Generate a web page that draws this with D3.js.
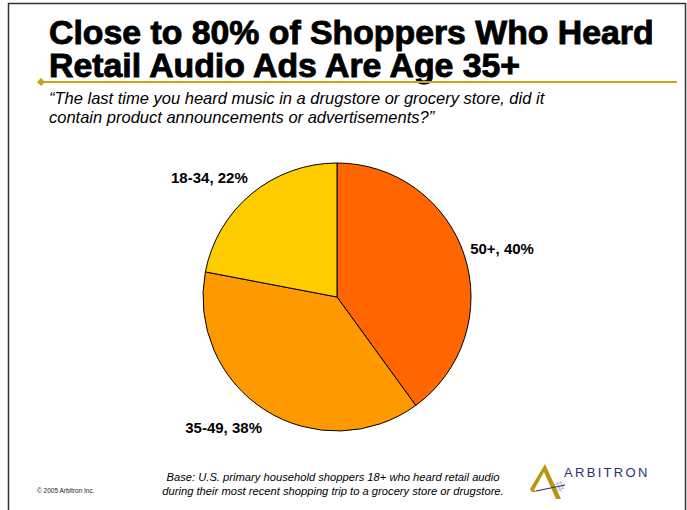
<!DOCTYPE html>
<html>
<head>
<meta charset="utf-8">
<script src="https://cdn.jsdelivr.net/npm/d3@7"></script>
<style>
  body { margin: 0; background: #fff; }
  svg { display: block; font-family: "Liberation Sans", Arial, sans-serif; }
</style>
</head>
<body>
<svg></svg>
<script>
// chart values
const ageGroups = ['50+', '35-49', '18-34'];
const shares = [40, 38, 22];
const sliceColors = ['#FF6600', '#FF9900', '#FFCC00'];

const titleLines = ['Close to 80% of Shoppers Who Heard', 'Retail Audio Ads Are Age 35+'];
const questionLines = [
    '\u201CThe last time you heard music in a drugstore or grocery store, did it',
    'contain product announcements or advertisements?\u201D'
];
const baseLines = [
    'Base: U.S. primary household shoppers 18+ who heard retail audio',
    'during their most recent shopping trip to a grocery store or drugstore.'
];

const width = 687, height = 510;
const svg = d3.select('svg')
    .attr('width', width)
    .attr('height', height);

// slide frame
svg.append('rect')
    .attr('x', 8.5).attr('y', 3.5)
    .attr('width', 677).attr('height', 520)
    .attr('fill', 'none')
    .attr('stroke', '#333')
    .attr('stroke-width', 1.5);

// title
svg.append('g').selectAll('text')
    .data(titleLines)
    .join('text')
    .attr('x', 49)
    .attr('y', (d, i) => 44 + i * 33)
    .attr('font-size', 33.8)
    .attr('font-weight', 'bold')
    .attr('fill', '#000')
    .attr('stroke', '#000')
    .attr('stroke-width', 0.9)
    .text(d => d);

// gold rule with diamond
svg.append('line')
    .attr('x1', 40).attr('x2', 677)
    .attr('y1', 82).attr('y2', 82)
    .attr('stroke', '#C8A415')
    .attr('stroke-width', 2);
svg.append('path')
    .attr('d', 'M41,78 L45,82 L41,86 L37,82 Z')
    .attr('fill', '#C8A415');

// survey question
svg.append('g').selectAll('text')
    .data(questionLines)
    .join('text')
    .attr('x', 49)
    .attr('y', (d, i) => 104 + i * 19)
    .attr('font-size', 16.5)
    .attr('font-style', 'italic')
    .text(d => d);

// pie
const radius = 134;
const cx = 337, cy = 297;
const pie = d3.pie().sort(null).value(d => d);
const arc = d3.arc().innerRadius(0).outerRadius(radius);
const arcs = pie(shares);
// labels sit on an ellipse round the pie, like the original slide
const labelRx = 140, labelRy = 155;
const midAngle = d => (d.startAngle + d.endAngle) / 2;

const g = svg.append('g').attr('transform', `translate(${cx},${cy})`);
g.selectAll('path')
    .data(arcs)
    .join('path')
    .attr('d', arc)
    .attr('fill', (d, i) => sliceColors[i])
    .attr('stroke', '#000')
    .attr('stroke-width', 1);

g.selectAll('text')
    .data(arcs)
    .join('text')
    .attr('x', d => Math.sin(midAngle(d)) * labelRx)
    .attr('y', d => -Math.cos(midAngle(d)) * labelRy)
    .attr('text-anchor', d => midAngle(d) < Math.PI ? 'start' : 'end')
    .attr('dy', '0.35em')
    .attr('font-size', 15)
    .attr('font-weight', 'bold')
    .text((d, i) => `${ageGroups[i]}, ${shares[i]}%`);

// footer
svg.append('text')
    .attr('x', 37).attr('y', 493)
    .attr('font-size', 6.5)
    .attr('fill', '#222')
    .text('\u00A9 2005 Arbitron Inc.');

svg.append('g').selectAll('text')
    .data(baseLines)
    .join('text')
    .attr('x', 333)
    .attr('y', (d, i) => 481 + i * 14)
    .attr('text-anchor', 'middle')
    .attr('font-size', 11.2)
    .attr('font-style', 'italic')
    .text(d => d);

// logo
const logo = svg.append('g');
logo.append('path')
    .attr('d', 'M554,485 L562,482 M556,489 L565,484 M553,492 L564,488 M557,482 L561,492 M560,481 L563,489')
    .attr('stroke', '#9aa0c8')
    .attr('stroke-width', 0.7)
    .attr('fill', 'none');
logo.append('path')
    .attr('d', 'M530,489 L545,464 L561,499 L556,499 L544,472 L534,490 L537,492 L532,492 Z')
    .attr('fill', '#B8960F');
logo.append('line')
    .attr('x1', 536).attr('y1', 491)
    .attr('x2', 565).attr('y2', 485)
    .attr('stroke', '#2b3170')
    .attr('stroke-width', 1.2);
logo.append('text')
    .attr('x', 564).attr('y', 477)
    .attr('font-size', 13)
    .attr('letter-spacing', 2.3)
    .attr('fill', '#2b3170')
    .text('ARBITRON');
</script>
</body>
</html>
